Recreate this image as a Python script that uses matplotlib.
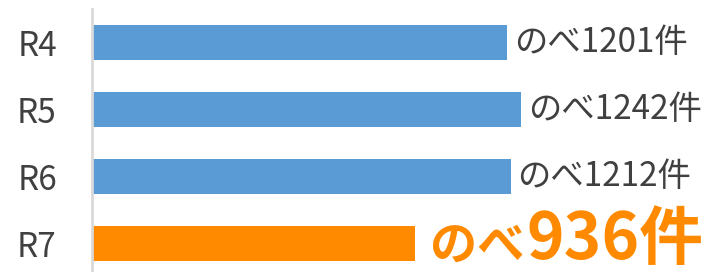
import matplotlib
matplotlib.use("Agg")
import matplotlib.pyplot as plt

plt.rcParams['font.family'] = ['Noto Sans CJK JP', 'DejaVu Sans']

categories = ["R4", "R5", "R6", "R7"]
values = [1201, 1242, 1212, 936]
colors = ["#5B9BD5", "#5B9BD5", "#5B9BD5", "#FF8A00"]
prefix = "のべ"
suffix = "件"

W, H = 706, 272
fig = plt.figure(figsize=(W / 100, H / 100), dpi=100)
ax_left = 91.5 / W
ax_top = 9 / H
ax_h = 268 / H
ax = fig.add_axes([ax_left, 1 - ax_top - ax_h, 1 - ax_left, ax_h])

pos = list(range(len(categories)))
ax.barh(pos, values, height=0.51, color=colors)
ax.set_xlim(0, (W - 91.5) / (429.5 / 1242))
ax.set_ylim(3.5, -0.5)

for s in ["top", "right", "bottom"]:
    ax.spines[s].set_visible(False)
ax.spines["left"].set_color("#D9D9D9")
ax.spines["left"].set_linewidth(2)
ax.set_xticks([])
ax.set_yticks(pos)
ax.set_yticklabels(categories, fontsize=24, color="#404040")
ax.tick_params(axis="y", length=0, pad=25)

# regular labels
for i, v in enumerate(values[:-1]):
    ax.annotate(f"{prefix}{v}{suffix}", xy=(v, i), xytext=(5, 0),
                textcoords="offset points", va="center", ha="left",
                fontsize=24, color="#404040")

# highlighted label
i = len(values) - 1
v = values[-1]
ax.annotate(prefix, xy=(v, i), xytext=(11, -12),
            textcoords="offset points", va="baseline", ha="left",
            fontsize=34, fontweight="bold", color="#FF8A00")
ax.annotate(f"{v}{suffix}", xy=(v, i), xytext=(80, -11),
            textcoords="offset points", va="baseline", ha="left",
            fontsize=46, fontweight="bold", color="#FF8A00")

fig.savefig("out.png", dpi=100)
